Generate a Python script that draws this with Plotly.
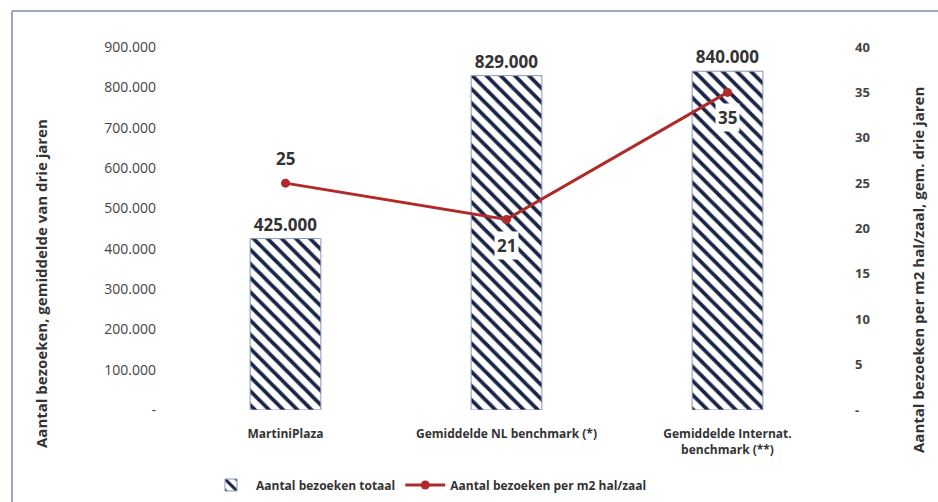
import plotly.graph_objects as go

categories = ["MartiniPlaza", "Gemiddelde NL benchmark (*)", "Gemiddelde Internat.<br>benchmark (**)"]
visits_total = [425000, 829000, 840000]
visits_per_m2 = [25, 21, 35]
left_ticks = [0, 100000, 200000, 300000, 400000, 500000, 600000, 700000, 800000, 900000]
right_ticks = [0, 5, 10, 15, 20, 25, 30, 35, 40]
line_label_shift = [25, -26, -25]
left_title = "Aantal bezoeken, gemiddelde van drie jaren"
right_title = "Aantal bezoeken per m2 hal/zaal, gem. drie jaren"

def nl(v):
    return "-" if v == 0 else f"{v:,}".replace(",", ".")

FONT = "Open Sans"
TXT = "#333333"

fig = go.Figure()
fig.add_trace(go.Bar(
    x=categories, y=visits_total, name="Aantal bezoeken totaal",
    width=0.32,
    marker=dict(color="white", line=dict(color="#8a96b8", width=1),
                pattern=dict(shape="\\", fgcolor="#1a2548", bgcolor="white", size=10, solidity=0.38, fgopacity=1)),
    text=[nl(v) for v in visits_total], textposition="outside",
    textfont=dict(family=FONT, size=17, color=TXT, weight="bold"),
    cliponaxis=False,
))
fig.add_trace(go.Scatter(
    x=categories, y=visits_per_m2, name="Aantal bezoeken per m2 hal/zaal",
    yaxis="y2", mode="lines+markers",
    line=dict(color="#b02a2a", width=3),
    marker=dict(color="#b02a2a", size=9),
))
for c, v, s in zip(categories, visits_per_m2, line_label_shift):
    fig.add_annotation(x=c, y=v, yref="y2", text=f"<b>{v}</b>", showarrow=False,
                       yshift=s, font=dict(family=FONT, size=17, color=TXT),
                       bgcolor="white" if s < 0 else "rgba(0,0,0,0)", borderpad=2)

L, R, T, B = 175, 100, 47, 92
W, H = 938, 502
pw, ph = W - L - R, H - T - B
px = lambda x: (x - L) / pw
py = lambda y: 1 - (y - T) / ph
border = "#a0a8bf"
fig.add_shape(type="line", xref="paper", yref="paper", x0=px(12), x1=px(12), y0=py(11), y1=py(510),
              line=dict(color=border, width=2))
fig.add_shape(type="line", xref="paper", yref="paper", x0=px(12), x1=px(945), y0=py(11), y1=py(11),
              line=dict(color=border, width=2))

fig.add_annotation(xref="paper", yref="paper", x=px(41), y=py(284), text=f"<b>{left_title}</b>",
                   textangle=-90, showarrow=False, xanchor="center", yanchor="middle",
                   font=dict(family=FONT, size=15, color=TXT))
fig.add_annotation(xref="paper", yref="paper", x=px(918), y=py(270), text=f"<b>{right_title}</b>",
                   textangle=-90, showarrow=False, xanchor="center", yanchor="middle",
                   font=dict(family=FONT, size=15, color=TXT))

fig.update_layout(
    width=W, height=H, margin=dict(l=L, r=R, t=T, b=B, autoexpand=False),
    plot_bgcolor="white", paper_bgcolor="white",
    font=dict(family=FONT, color=TXT),
    showlegend=True,
    legend=dict(orientation="h", x=px(429), xanchor="center", y=py(485), yanchor="middle",
                font=dict(family=FONT, size=12, color=TXT, weight="bold"),
                itemwidth=40, traceorder="normal"),
    xaxis=dict(showline=False, showgrid=False, ticks="", ticklabelstandoff=15, automargin=False,
               tickfont=dict(family=FONT, size=12, color=TXT, weight="bold")),
    yaxis=dict(range=[0, 900000], tickvals=left_ticks, ticktext=[nl(v) for v in left_ticks],
               showgrid=False, zeroline=False, ticks="", ticklabelstandoff=18, automargin=False,
               tickfont=dict(family=FONT, size=14, color="#444")),
    yaxis2=dict(range=[0, 40], overlaying="y", side="right", tickvals=right_ticks,
                ticktext=["-" if v == 0 else str(v) for v in right_ticks],
                showgrid=False, zeroline=False, ticks="", ticklabelstandoff=16, automargin=False,
                tickfont=dict(family=FONT, size=13, color="#444", weight="bold")),
)
fig.write_html("out.html")
